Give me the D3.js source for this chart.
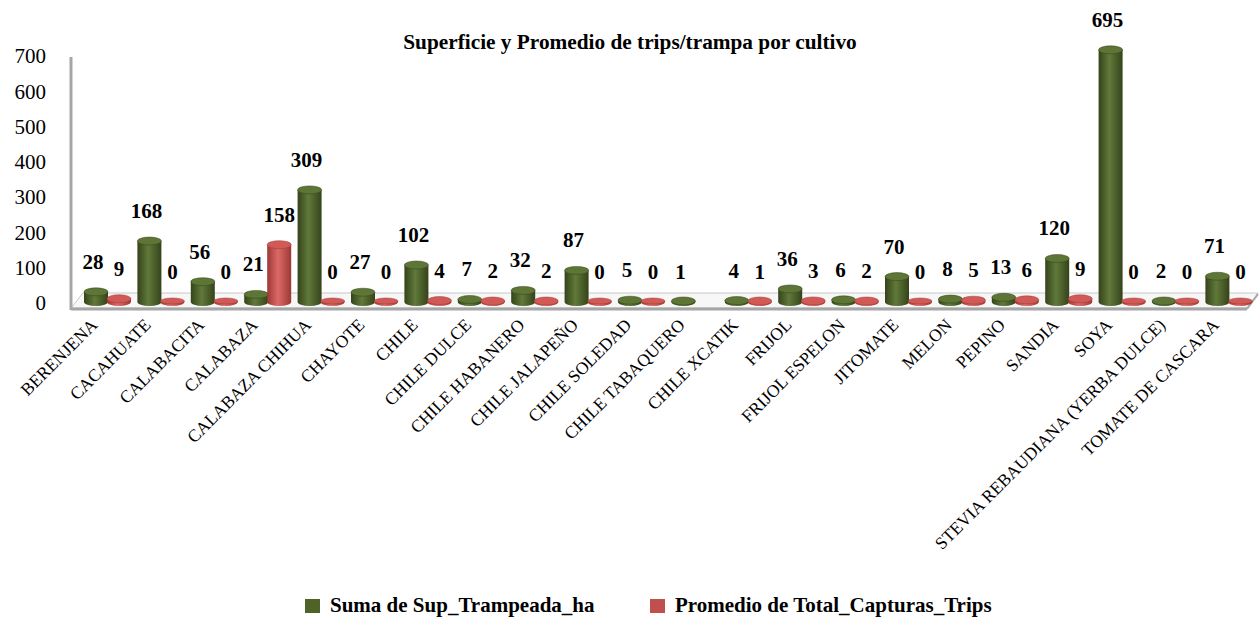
<!DOCTYPE html>
<html>
<head>
<meta charset="utf-8">
<script src="https://cdn.jsdelivr.net/npm/d3@7"></script>
<style>
  body { margin: 0; background: #fff; }
  svg { display: block; }
  svg text { font-family: "Liberation Serif", serif; }
</style>
</head>
<body>
<div id="vizArea"></div>
<script>
const categories = ['BERENJENA', 'CACAHUATE', 'CALABACITA', 'CALABAZA', 'CALABAZA CHIHUA', 'CHAYOTE',
    'CHILE', 'CHILE DULCE', 'CHILE HABANERO', 'CHILE JALAPEÑO', 'CHILE SOLEDAD', 'CHILE TABAQUERO',
    'CHILE XCATIK', 'FRIJOL', 'FRIJOL ESPELON', 'JITOMATE', 'MELON', 'PEPINO', 'SANDIA', 'SOYA',
    'STEVIA REBAUDIANA (YERBA DULCE)', 'TOMATE DE CASCARA']
const supTrampeada = [28, 168, 56, 21, 309, 27, 102, 7, 32, 87, 5, 1, 4, 36, 6, 70, 8, 13, 120, 695, 2, 71]
const promCapturas = [9, 0, 0, 158, 0, 0, 4, 2, 2, 0, 0, null, 1, 3, 2, 0, 5, 6, 9, 0, 0, 0]
const seriesNames = ['Suma de Sup_Trampeada_ha', 'Promedio de Total_Capturas_Trips']
const yTicks = [0, 100, 200, 300, 400, 500, 600, 700]

const width = 1259, height = 617
const base = 302
const serif = '"Liberation Serif", serif'

const svg = d3.select('#vizArea')
    .append('svg')
    .attr('width', width)
    .attr('height', height)
    .attr('font-family', serif)

// gradients for the cylinders
const defs = svg.append('defs')
const palette = [
    {id: 'g', dark: '#34431a', mid: '#61793a', top: '#5d7535'},
    {id: 'r', dark: '#9c3835', mid: '#dc6a66', top: '#d25a56'}
]
palette.forEach(p => {
    const lg = defs.append('linearGradient').attr('id', 'body-' + p.id)
    lg.append('stop').attr('offset', '0%').attr('stop-color', p.dark)
    lg.append('stop').attr('offset', '45%').attr('stop-color', p.mid)
    lg.append('stop').attr('offset', '100%').attr('stop-color', p.dark)
})

const x = d3.scaleBand().domain(categories).range([84.5, 84.5 + 22 * 53.4])
const xSub = d3.scaleBand().domain(seriesNames).range([0, 46])
const yAxisScale = d3.scaleLinear().domain([0, 700]).range([303, 56])
const y = d3.scaleLinear().domain([0, 700]).range([base, base - 254])

// floor
svg.append('path')
    .attr('d', 'M71,308 L83,293 L1258,293 L1247,308 Z')
    .attr('fill', '#f7f7f7')
    .attr('stroke', '#c8c8c8')
    .attr('stroke-width', 1)
svg.append('line')
    .attr('x1', 71).attr('x2', 1247).attr('y1', 309).attr('y2', 309)
    .attr('stroke', '#a6a6a6').attr('stroke-width', 3)
svg.append('line')
    .attr('x1', 1247).attr('x2', 1258).attr('y1', 309).attr('y2', 294)
    .attr('stroke', '#a6a6a6').attr('stroke-width', 2)

// y axis
svg.append('line')
    .attr('x1', 71).attr('x2', 71).attr('y1', 57).attr('y2', 310)
    .attr('stroke', '#a6a6a6').attr('stroke-width', 3)

const yAxis = svg.append('g')
    .attr('transform', 'translate(46,0)')
    .call(d3.axisLeft(yAxisScale).tickValues(yTicks).tickSize(0).tickPadding(0))
    .attr('font-family', serif)
    .attr('font-size', 21)
yAxis.select('.domain').remove()
yAxis.selectAll('text').attr('fill', '#000')

// bars
const rows = categories.map((c, i) => ({cat: c, values: [supTrampeada[i], promCapturas[i]]}))

const groups = svg.selectAll('g.cat')
    .data(rows)
    .enter()
    .append('g')
    .attr('class', 'cat')
    .attr('transform', d => 'translate(' + x(d.cat) + ',0)')

const rx = 12, ry = 4
seriesNames.forEach((s, k) => {
    const p = palette[k]
    const cx = xSub(s) + xSub.bandwidth() / 2
    const bars = groups.filter(d => d.values[k] !== null)
    const top = d => Math.min(y(d.values[k]), base - 1)
    bars.append('path')
        .attr('d', d => {
            const t = top(d)
            return 'M' + (cx - rx) + ',' + t + ' L' + (cx - rx) + ',' + base +
                ' A' + rx + ',' + ry + ' 0 0 0 ' + (cx + rx) + ',' + base +
                ' L' + (cx + rx) + ',' + t + ' Z'
        })
        .attr('fill', 'url(#body-' + p.id + ')')
    bars.append('ellipse')
        .attr('cx', cx)
        .attr('cy', d => top(d))
        .attr('rx', rx)
        .attr('ry', d => d.values[k] === 0 ? 3 : ry)
        .attr('fill', p.top)
        .attr('stroke', p.dark)
        .attr('stroke-width', 0.5)

    bars.append('text')
        .attr('x', cx + (k === 0 ? -3 : 0))
        .attr('y', d => y(d.values[k]) - 23)
        .attr('text-anchor', 'middle')
        .attr('font-size', 21)
        .attr('font-weight', 'bold')
        .text(d => d.values[k])
})

// category labels
svg.selectAll('text.cat')
    .data(categories)
    .enter()
    .append('text')
    .attr('class', 'cat')
    .attr('transform', d => 'translate(' + (x(d) + 14) + ',326) rotate(-45)')
    .attr('text-anchor', 'end')
    .attr('font-size', 17.5)
    .text(d => d)

// title
svg.append('text')
    .attr('x', 630)
    .attr('y', 49)
    .attr('text-anchor', 'middle')
    .attr('font-size', 21.3)
    .attr('font-weight', 'bold')
    .text('Superficie y Promedio de trips/trampa por cultivo')

// legend
const legendX = [305, 650]
seriesNames.forEach((s, k) => {
    svg.append('rect')
        .attr('x', legendX[k]).attr('y', 599)
        .attr('width', 15).attr('height', 14)
        .attr('fill', k === 0 ? '#4f6228' : '#c0504d')
    svg.append('text')
        .attr('x', legendX[k] + 25)
        .attr('y', 612)
        .attr('font-size', 21)
        .attr('font-weight', 'bold')
        .text(s)
})
</script>
</body>
</html>
